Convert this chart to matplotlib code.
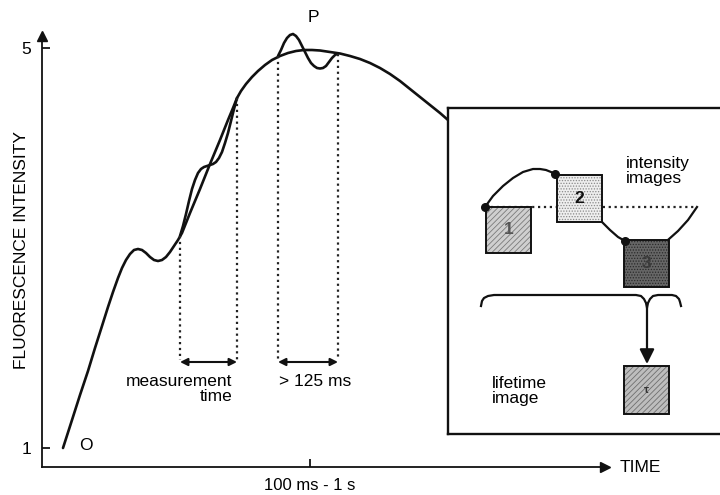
import matplotlib
matplotlib.use("Agg")
import matplotlib.pyplot as plt
from matplotlib.patches import Rectangle

plt.rcParams['font.family'] = ['Liberation Sans', 'DejaVu Sans']
plt.rcParams['hatch.linewidth'] = 0.6

# main induction curve (time in arbitrary units, relative intensity)
curve_t = [63, 72, 80, 88, 95, 102, 108, 113, 118, 122, 126, 130, 134, 138, 142,
           146, 150, 154, 158, 162, 166, 170, 174, 178, 182, 190, 200, 210, 220,
           228, 233, 237, 241, 246, 252, 258, 265, 272, 280, 288, 296, 304, 312,
           320, 330, 340, 350, 360, 370, 380, 390, 400, 410, 420, 430, 440, 448]
curve_f = [1.00, 1.28, 1.53, 1.77, 2.00, 2.22, 2.41, 2.56, 2.70, 2.80, 2.88, 2.94,
           2.98, 2.99, 2.98, 2.95, 2.91, 2.88, 2.87, 2.88, 2.91, 2.96, 3.02, 3.08,
           3.15, 3.35, 3.59, 3.84, 4.08, 4.28, 4.40, 4.50, 4.57, 4.64, 4.71, 4.77,
           4.83, 4.88, 4.92, 4.95, 4.97, 4.98, 4.98, 4.975, 4.96, 4.945, 4.92,
           4.89, 4.85, 4.80, 4.74, 4.67, 4.59, 4.51, 4.43, 4.35, 4.28]

# oscillating trace during first measurement window
wave1_t = [180, 183, 186, 189, 192, 195, 198, 201, 204, 207, 210, 213, 216, 219,
           222, 225, 228, 231, 234, 237]
wave1_f = [3.12, 3.22, 3.34, 3.47, 3.59, 3.68, 3.75, 3.79, 3.81, 3.82, 3.83, 3.84,
           3.86, 3.90, 3.96, 4.05, 4.15, 4.27, 4.39, 4.50]

# oscillating trace near P
wave2_t = [278, 281, 284, 287, 290, 293, 296, 299, 302, 305, 308, 311, 314, 317,
           320, 323, 326, 329, 332, 335, 338]
wave2_f = [4.92, 4.98, 5.05, 5.10, 5.13, 5.14, 5.12, 5.08, 5.02, 4.96, 4.90, 4.85,
           4.82, 4.80, 4.795, 4.80, 4.82, 4.86, 4.90, 4.93, 4.945]

# measurement windows (start, end, top of left line, top of right line)
windows = [(180, 237, 3.12, 4.50), (278, 338, 4.92, 4.945)]
window_labels = ["measurement\ntime", "> 125 ms"]

fig = plt.figure(figsize=(7.2, 4.95), dpi=100)
ax = fig.add_axes([0, 0, 1, 1])
ax.set_xlim(0, 720)
ax.set_ylim(0.53, 5.48)

for t, f in [(curve_t, curve_f), (wave1_t, wave1_f), (wave2_t, wave2_f)]:
    ax.plot(t, f, color='#111111', lw=1.9, solid_joinstyle='round',
            solid_capstyle='round')

base = 1.88
for t0, t1, f0, f1 in windows:
    ax.plot([t0, t0], [f0, base], ls=':', color='#222222', lw=1.6)
    ax.plot([t1, t1], [f1, base], ls=':', color='#222222', lw=1.6)
    ax.annotate('', xy=(t0, base - 0.02), xytext=(t1, base - 0.02),
                arrowprops=dict(arrowstyle='<|-|>', color='#111111', lw=1.5,
                                mutation_scale=11, shrinkA=0, shrinkB=0))

ax.text(232, 1.59, window_labels[0], ha='right', va='center', fontsize=12.5,
        multialignment='right', linespacing=1.05)
ax.text(315, 1.67, window_labels[1], ha='center', va='center', fontsize=12.5)

ax.text(86, 1.03, 'O', ha='center', va='center', fontsize=12.5)
ax.text(313, 5.30, 'P', ha='center', va='center', fontsize=12.5)

# axes with arrows
for s in ['top', 'right']:
    ax.spines[s].set_visible(False)
ax.spines['left'].set_position(('data', 42))
ax.spines['bottom'].set_position(('data', 0.81))
ax.spines['left'].set_bounds(0.81, 5.1)
ax.spines['bottom'].set_bounds(42, 600)
for s in ['left', 'bottom']:
    ax.spines[s].set_linewidth(1.3)
    ax.spines[s].set_color('#111111')
ax.plot(42, 5.12, marker='^', ms=7, color='#111111', clip_on=False)
ax.plot(605, 0.81, marker='>', ms=7, color='#111111', clip_on=False)
ax.text(620, 0.81, 'TIME', ha='left', va='center', fontsize=12.5)

ax.set_yticks([1, 5])
ax.set_yticklabels(['1', '5'], fontsize=12.5)
ax.set_xticks([310])
ax.set_xticklabels(['100 ms - 1 s'], fontsize=12)
ax.tick_params(axis='y', direction='in', length=6, width=1.2, pad=8)
ax.tick_params(axis='x', direction='in', length=6, width=1.2, pad=8)
ax.text(22, 2.98, 'FLUORESCENCE INTENSITY', rotation=90, ha='center',
        va='center', fontsize=12.5)

# inset: intensity images -> lifetime image
ins = fig.add_axes([448 / 720, 61 / 495, 282 / 720, 326 / 495], zorder=5)
ins.set_xlim(0, 282)
ins.set_ylim(326, 0)
ins.set_xticks([])
ins.set_yticks([])
for s in ins.spines.values():
    s.set_linewidth(1.7)
    s.set_color('#111111')

trace_x = [37, 45, 55, 65, 75, 85, 92, 98, 103, 107]
trace_y = [99, 88, 78, 70, 64, 61, 61, 62, 64, 66]
link_x = [154, 162, 170, 177]
link_y = [114, 122, 129, 133]
rise_x = [221, 230, 240, 249]
rise_y = [131, 123, 112, 99]

ins.plot([37, 249], [99, 99], ls=':', color='#222222', lw=1.6, zorder=1)
for xs, ys in [(trace_x, trace_y), (link_x, link_y), (rise_x, rise_y)]:
    ins.plot(xs, ys, color='#111111', lw=1.6, zorder=3)
ins.scatter([37, 107, 177], [99, 66, 133], s=30, color='#111111', zorder=6)

boxes = [
    ((38, 99), 45, 46, '#cfcfcf', '//////', '#7a7a7a', '1', '#555555'),
    ((109, 67), 45, 47, '#eeeeee', '......', '#8a8a8a', '2', '#111111'),
    ((176, 132), 45, 47, '#666666', '......', '#2a2a2a', '3', '#3a3a3a'),
    ((176, 258), 45, 48, '#bdbdbd', '//////', '#6f6f6f', '\u03c4', '#333333'),
]
for xy, w, h, face, hatch, hcol, lab, lcol in boxes:
    ins.add_patch(Rectangle(xy, w, h, facecolor=face, hatch=hatch,
                            edgecolor=hcol, lw=0, zorder=4))
    ins.add_patch(Rectangle(xy, w, h, fill=False, edgecolor='#111111',
                            lw=1.4, zorder=5))
    ins.text(xy[0] + w / 2, xy[1] + h / 2, lab, ha='center', va='center',
             fontsize=12.5 if lab != '\u03c4' else 8, fontweight='bold',
             color=lcol, zorder=6)

ins.text(178, 63, 'intensity\nimages', ha='left', va='center', fontsize=12.5,
         linespacing=1.05)
ins.text(44, 283, 'lifetime\nimage', ha='left', va='center', fontsize=12.5,
         linespacing=1.05)

brace_x = [33, 34, 36, 40, 46, 188, 193, 196, 198, 199, 200, 202, 205, 210,
           224, 228, 231, 232, 233]
brace_y = [198, 193, 190, 188, 187, 187, 188, 191, 195, 200, 195, 191, 188, 187,
           187, 188, 191, 194, 198]
ins.plot(brace_x, brace_y, color='#111111', lw=1.6, solid_joinstyle='round')
ins.annotate('', xy=(199, 256), xytext=(199, 200),
             arrowprops=dict(arrowstyle='-|>', color='#111111', lw=1.6,
                             mutation_scale=22, shrinkA=0, shrinkB=0))

fig.savefig('out.png', dpi=100)
